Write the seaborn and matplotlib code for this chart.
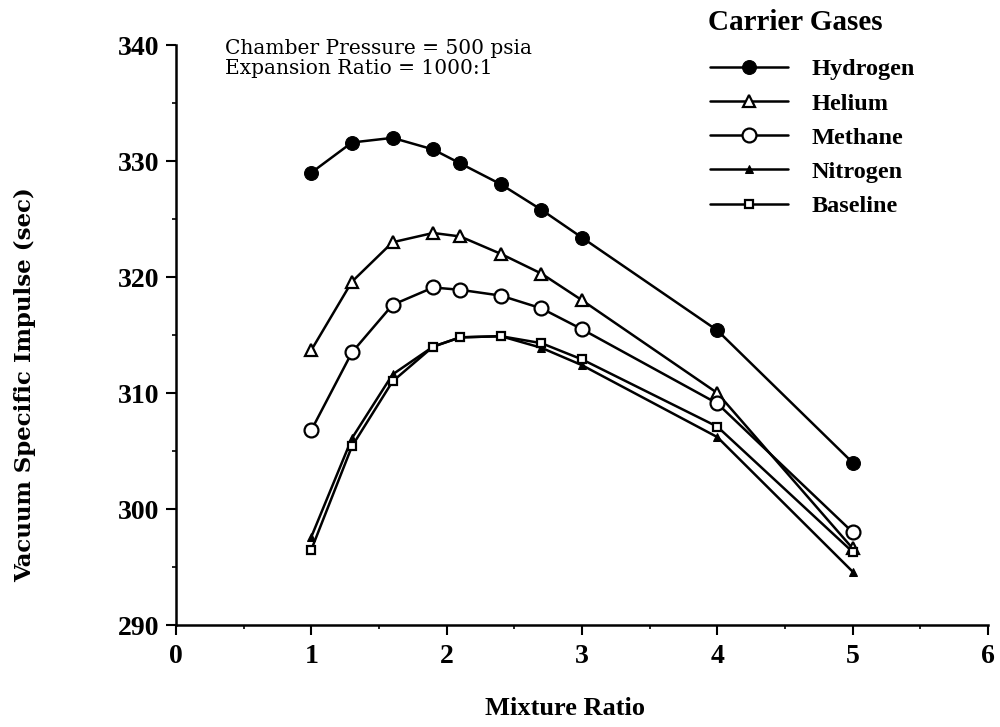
import matplotlib
matplotlib.use("Agg")
import matplotlib.pyplot as plt
import seaborn as sns
import pandas as pd
from matplotlib.ticker import MultipleLocator

sns.set_style("white")
plt.rcParams['font.family'] = ['Liberation Serif', 'DejaVu Serif']
plt.rcParams['text.color'] = 'black'
plt.rcParams['axes.labelcolor'] = 'black'
plt.rcParams['xtick.color'] = 'black'
plt.rcParams['ytick.color'] = 'black'

mixture_ratio = [1.0, 1.3, 1.6, 1.9, 2.1, 2.4, 2.7, 3.0, 4.0, 5.0]
hydrogen = [329.0, 331.6, 332.0, 331.0, 329.8, 328.0, 325.8, 323.4, 315.4, 304.0]
helium   = [313.7, 319.6, 323.0, 323.8, 323.5, 322.0, 320.3, 318.0, 310.0, 296.6]
methane  = [306.8, 313.5, 317.6, 319.1, 318.9, 318.4, 317.3, 315.5, 309.1, 298.0]
nitrogen = [297.6, 306.1, 311.6, 314.0, 314.8, 314.9, 313.9, 312.4, 306.2, 294.6]
baseline = [296.5, 305.4, 311.0, 314.0, 314.8, 314.9, 314.3, 312.9, 307.1, 296.3]

series_names = ["Hydrogen", "Helium", "Methane", "Nitrogen", "Baseline"]
series_values = [hydrogen, helium, methane, nitrogen, baseline]

x_ticks = [0, 1, 2, 3, 4, 5, 6]
y_ticks = [290, 300, 310, 320, 330, 340]

styles = {
    "Hydrogen": dict(marker="o", markersize=10, markerfacecolor="black"),
    "Helium":   dict(marker="^", markersize=8, markerfacecolor="white", markeredgewidth=1.6),
    "Methane":  dict(marker="o", markersize=10, markerfacecolor="white", markeredgewidth=1.6),
    "Nitrogen": dict(marker="^", markersize=6, markerfacecolor="black"),
    "Baseline": dict(marker="s", markersize=6, markerfacecolor="white", markeredgewidth=1.6),
}

fig = plt.figure(figsize=(10, 7.27), dpi=100)
ax = fig.add_axes([0.176, 0.1403, 0.812, 0.7977])

for name, vals in zip(series_names, series_values):
    df = pd.DataFrame({"x": mixture_ratio, "y": vals})
    sns.lineplot(data=df, x="x", y="y", ax=ax, color="black", linewidth=1.8,
                 markeredgecolor="black", label=name, **styles[name])

ax.set_xlim(0, 6)
ax.set_ylim(290, 340)
ax.xaxis.set_minor_locator(MultipleLocator(0.5))
ax.yaxis.set_minor_locator(MultipleLocator(5))
ax.tick_params(axis="y", which="major", direction="out", length=7, width=1.5,
               colors="black", pad=5, left=True)
ax.tick_params(axis="x", which="major", direction="out", length=7, width=1.5,
               colors="black", pad=7, bottom=True)
ax.tick_params(which="minor", direction="out", length=3, width=1.2, colors="black",
               left=True, bottom=True)
ax.set_xticks(x_ticks)
ax.set_yticks(y_ticks)
ax.set_xticklabels([str(v) for v in x_ticks], fontsize=20, fontweight="bold")
ax.set_yticklabels([str(v) for v in y_ticks], fontsize=20, fontweight="bold")

for s in ["top", "right"]:
    ax.spines[s].set_visible(False)
for s in ["left", "bottom"]:
    ax.spines[s].set_color("black")
    ax.spines[s].set_linewidth(1.8)

ax.set_xlabel("Mixture Ratio", fontsize=19, fontweight="bold", labelpad=20)
ax.xaxis.label.set_x((565 - 176) / 812)
ax.set_ylabel("Vacuum Specific Impulse (sec)", fontsize=16.5, fontweight="bold",
              family=["DejaVu Serif"], labelpad=59)
ax.yaxis.label.set_y((625 - 385) / 580)

ax.text(0.06, 1.011, "Chamber Pressure = 500 psia\nExpansion Ratio = 1000:1",
        transform=ax.transAxes, ha="left", va="top", fontsize=14.5,
        family=["DejaVu Serif"], linespacing=1.08)

fig.text(0.708, 1 - 22 / 727, "Carrier Gases", ha="left", va="center",
         fontsize=21, fontweight="bold")

leg = ax.legend(loc="upper left",
                bbox_to_anchor=(0.700, 0.933), bbox_transform=fig.transFigure,
                frameon=False, fontsize=17.5,
                handlelength=3.2, handletextpad=1.0, labelspacing=0.5,
                borderaxespad=0)
for t in leg.get_texts():
    t.set_fontweight("bold")

fig.savefig("out.png", dpi=100, facecolor="white")
